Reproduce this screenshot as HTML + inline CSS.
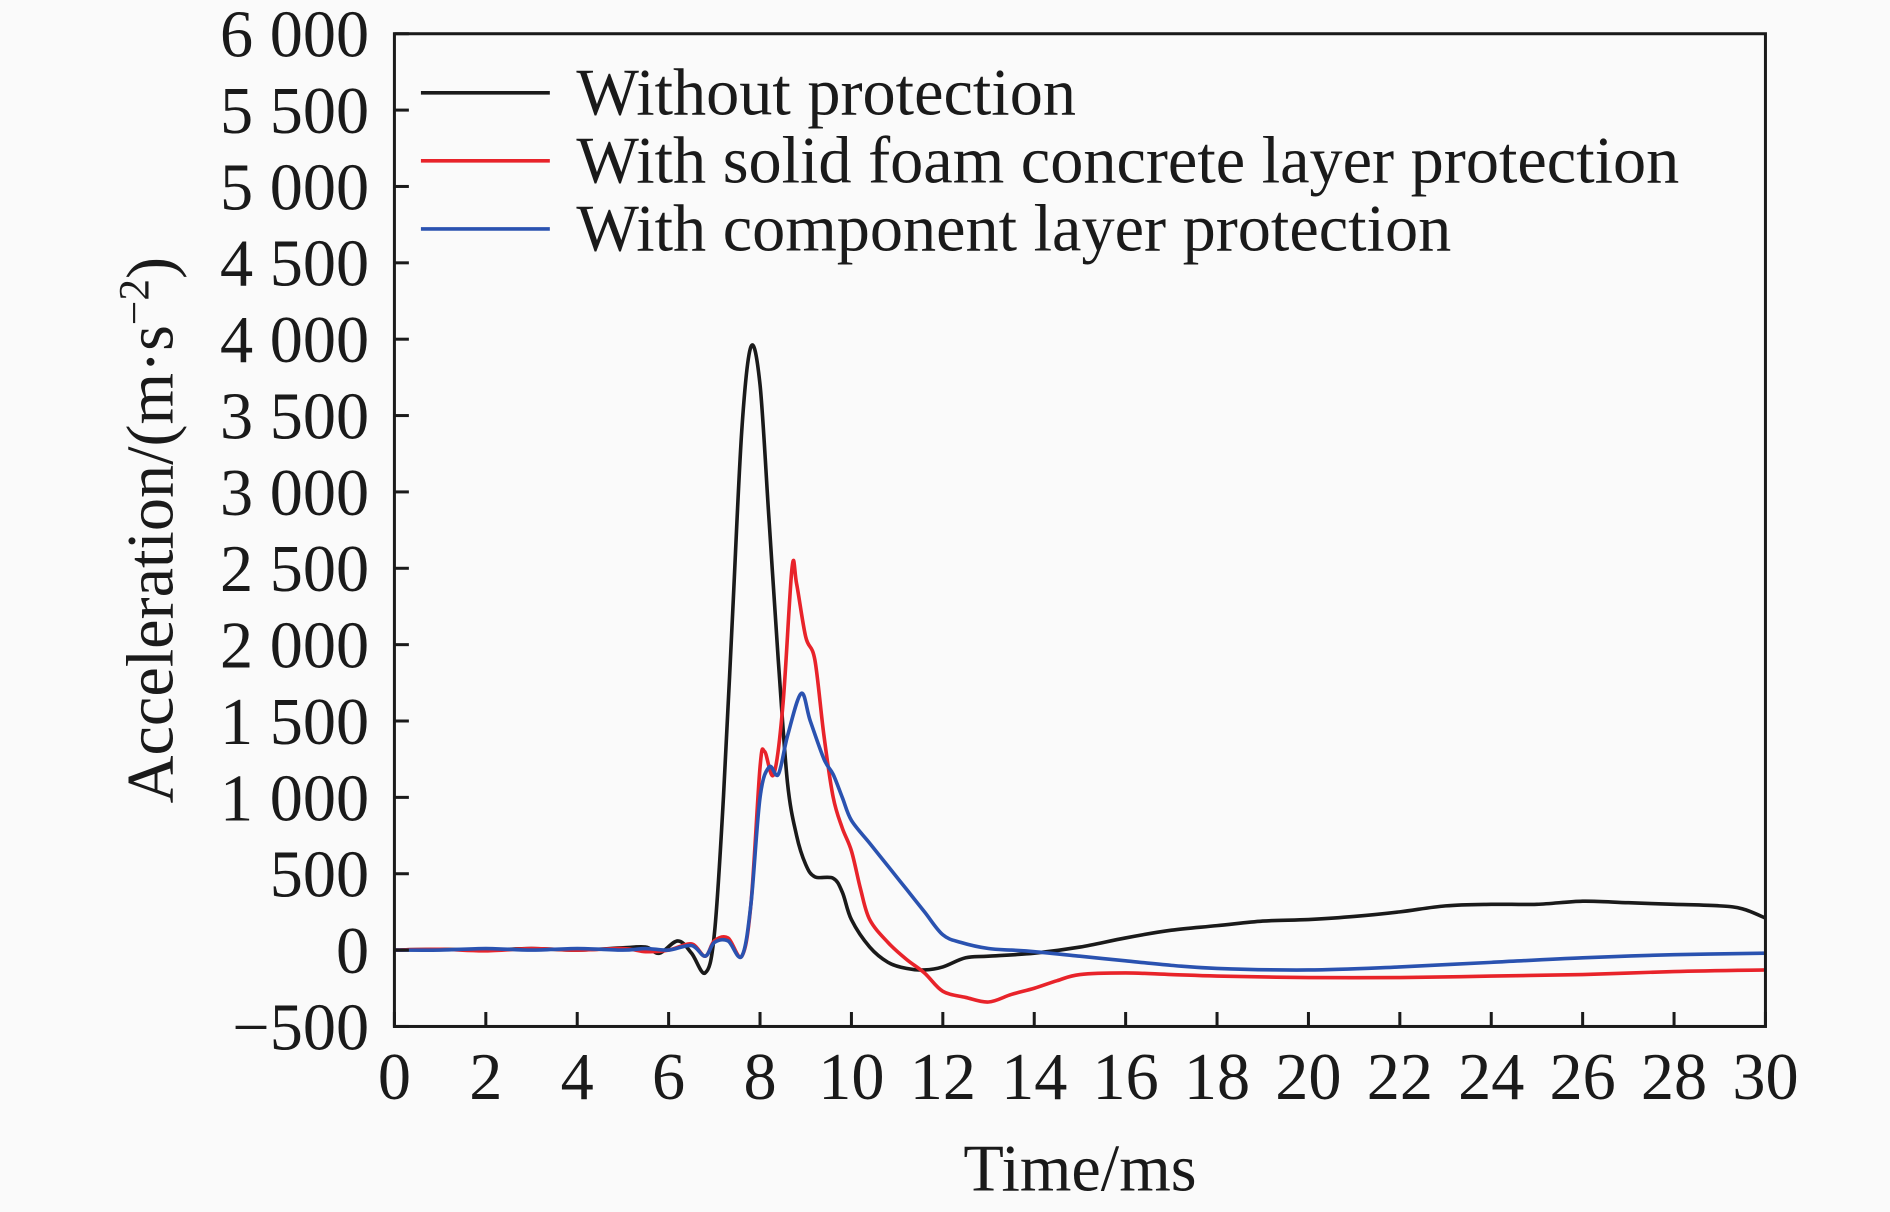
<!DOCTYPE html>
<html><head><meta charset="utf-8"><style>
html,body{margin:0;padding:0;background:#fafafa;}
svg{display:block;font-family:"Liberation Serif",serif;}
</style></head><body>
<svg id="chart" width="1890" height="1212" viewBox="0 0 1568 1006" xmlns="http://www.w3.org/2000/svg">
<rect x="0" y="0" width="1568" height="1006" fill="#fafafa"/>
<g id="plot"></g>
</svg>
<script>
const xTicks=[0,2,4,6,8,10,12,14,16,18,20,22,24,26,28,30];
const yTicks=[-500,0,500,1000,1500,2000,2500,3000,3500,4000,4500,5000,5500,6000];
const yTickLabels=["\u2212500","0","500","1 000","1 500","2 000","2 500","3 000","3 500","4 000","4 500","5 000","5 500","6 000"];
const blackT=[0,1,2,3,4,5,5.5,5.8,6.2,6.5,6.8,7.0,7.2,7.4,7.6,7.8,8.0,8.2,8.4,8.6,8.8,9.0,9.2,9.6,9.8,10.0,10.4,10.8,11.2,11.6,12,12.5,13,14,15,16,17,18,19,20,21,22,23,24,25,26,27,28,29,29.5,30];
const blackV=[0,5,0,10,0,15,20,-20,60,-20,-150,100,1000,2200,3400,3950,3700,2800,1900,1100,750,560,480,470,380,200,20,-80,-120,-130,-110,-50,-40,-20,20,80,130,160,190,200,220,250,290,300,300,320,310,300,290,270,210];
const redT=[0,1,2,3,4,5,5.5,6,6.5,6.8,7.0,7.3,7.6,7.8,8.0,8.1,8.3,8.5,8.7,8.8,9.0,9.2,9.4,9.6,9.8,10.0,10.2,10.4,10.8,11.2,11.6,12,12.5,13,13.5,14,14.5,15,16,17,18,20,22,24,26,28,30];
const redV=[0,5,-5,10,0,10,-10,0,40,-40,60,80,-40,300,1200,1300,1150,1600,2500,2400,2050,1900,1400,1000,800,650,400,200,50,-60,-150,-270,-310,-340,-290,-250,-200,-160,-150,-160,-170,-180,-180,-170,-160,-140,-130];
const blueT=[0,1,2,3,4,5,5.5,6,6.5,6.8,7.0,7.3,7.6,7.8,8.0,8.2,8.4,8.6,8.9,9.1,9.4,9.6,9.8,10,10.4,10.8,11.2,11.6,12,12.4,13,13.5,14,15,16,17,18,20,22,24,26,28,30];
const blueV=[0,0,10,0,10,0,10,0,30,-40,50,60,-40,300,1000,1200,1150,1400,1680,1500,1250,1150,1000,850,700,550,400,250,100,50,10,0,-10,-40,-70,-100,-120,-130,-110,-80,-50,-30,-20];
const seriesNames=["Without protection","With solid foam concrete layer protection","With component layer protection"];
const seriesColors=["#1a1a1a","#e8232a","#2a52b0"];

const L=327,R=1465,T=28,B=852;
const xs=v=>L+(v-0)/(30-0)*(R-L);
const ys=v=>B-(v+500)/(6000+500)*(B-T);
const NS="http://www.w3.org/2000/svg";
const g=document.getElementById('plot');
function mk(tag,attrs){const e=document.createElementNS(NS,tag);for(const k in attrs)e.setAttribute(k,attrs[k]);g.appendChild(e);return e;}

// series (smoothed with Catmull-Rom through data points)
const series=[[blackT,blackV],[redT,redV],[blueT,blueV]];
series.forEach((s,i)=>{
  const P=s[0].map((t,j)=>[xs(t),ys(s[1][j])]);
  let d='M'+P[0][0].toFixed(1)+','+P[0][1].toFixed(1);
  for(let j=0;j<P.length-1;j++){
    const p0=P[Math.max(0,j-1)],p1=P[j],p2=P[j+1],p3=P[Math.min(P.length-1,j+2)];
    const c1=[p1[0]+(p2[0]-p0[0])/6,p1[1]+(p2[1]-p0[1])/6];
    const c2=[p2[0]-(p3[0]-p1[0])/6,p2[1]-(p3[1]-p1[1])/6];
    d+='C'+c1[0].toFixed(1)+','+c1[1].toFixed(1)+' '+c2[0].toFixed(1)+','+c2[1].toFixed(1)+' '+p2[0].toFixed(1)+','+p2[1].toFixed(1);
  }
  const p=mk('path',{d:d,fill:'none',stroke:seriesColors[i],'stroke-width':3,'stroke-linejoin':'round'});
  
  
});

// frame
const fr=mk('rect',{x:L,y:T,width:R-L,height:B-T,fill:'none',stroke:'#1a1a1a','stroke-width':2.5});



// x ticks
xTicks.forEach(v=>{
  const t=mk('line',{x1:xs(v),x2:xs(v),y1:B,y2:B-12,stroke:'#1a1a1a','stroke-width':2.5});
  
  
  const tx=mk('text',{x:xs(v),y:912,'font-size':55,'text-anchor':'middle',fill:'#1a1a1a'});
  tx.textContent=v;
  
  
});
// y ticks
yTicks.forEach((v,i)=>{
  const t=mk('line',{x1:L,x2:L+12,y1:ys(v),y2:ys(v),stroke:'#1a1a1a','stroke-width':2.5});
  
  
  const tx=mk('text',{x:306,y:ys(v)+19,'font-size':55,'text-anchor':'end',fill:'#1a1a1a'});
  tx.textContent=yTickLabels[i];
  
  
});

// legend
seriesNames.forEach((n,i)=>{
  const y=77+i*56.5;
  const l=mk('line',{x1:349,x2:456,y1:y,y2:y,stroke:seriesColors[i],'stroke-width':3});
  
  
  const t=mk('text',{x:478,y:y+18,'font-size':55,fill:'#1a1a1a'});
  t.textContent=n;
  
  
});

// axis titles
const xt=mk('text',{x:896,y:988,'font-size':55,'text-anchor':'middle',fill:'#1a1a1a'});
xt.textContent='Time/ms';


const yt=mk('text',{x:0,y:0,'font-size':55,'text-anchor':'middle',fill:'#1a1a1a',transform:'translate(143,440) rotate(-90)'});
yt.innerHTML='Acceleration/(m·s<tspan dy="-20" font-size="36">\u22122</tspan><tspan dy="20">)</tspan>';


</script>
</body></html>
